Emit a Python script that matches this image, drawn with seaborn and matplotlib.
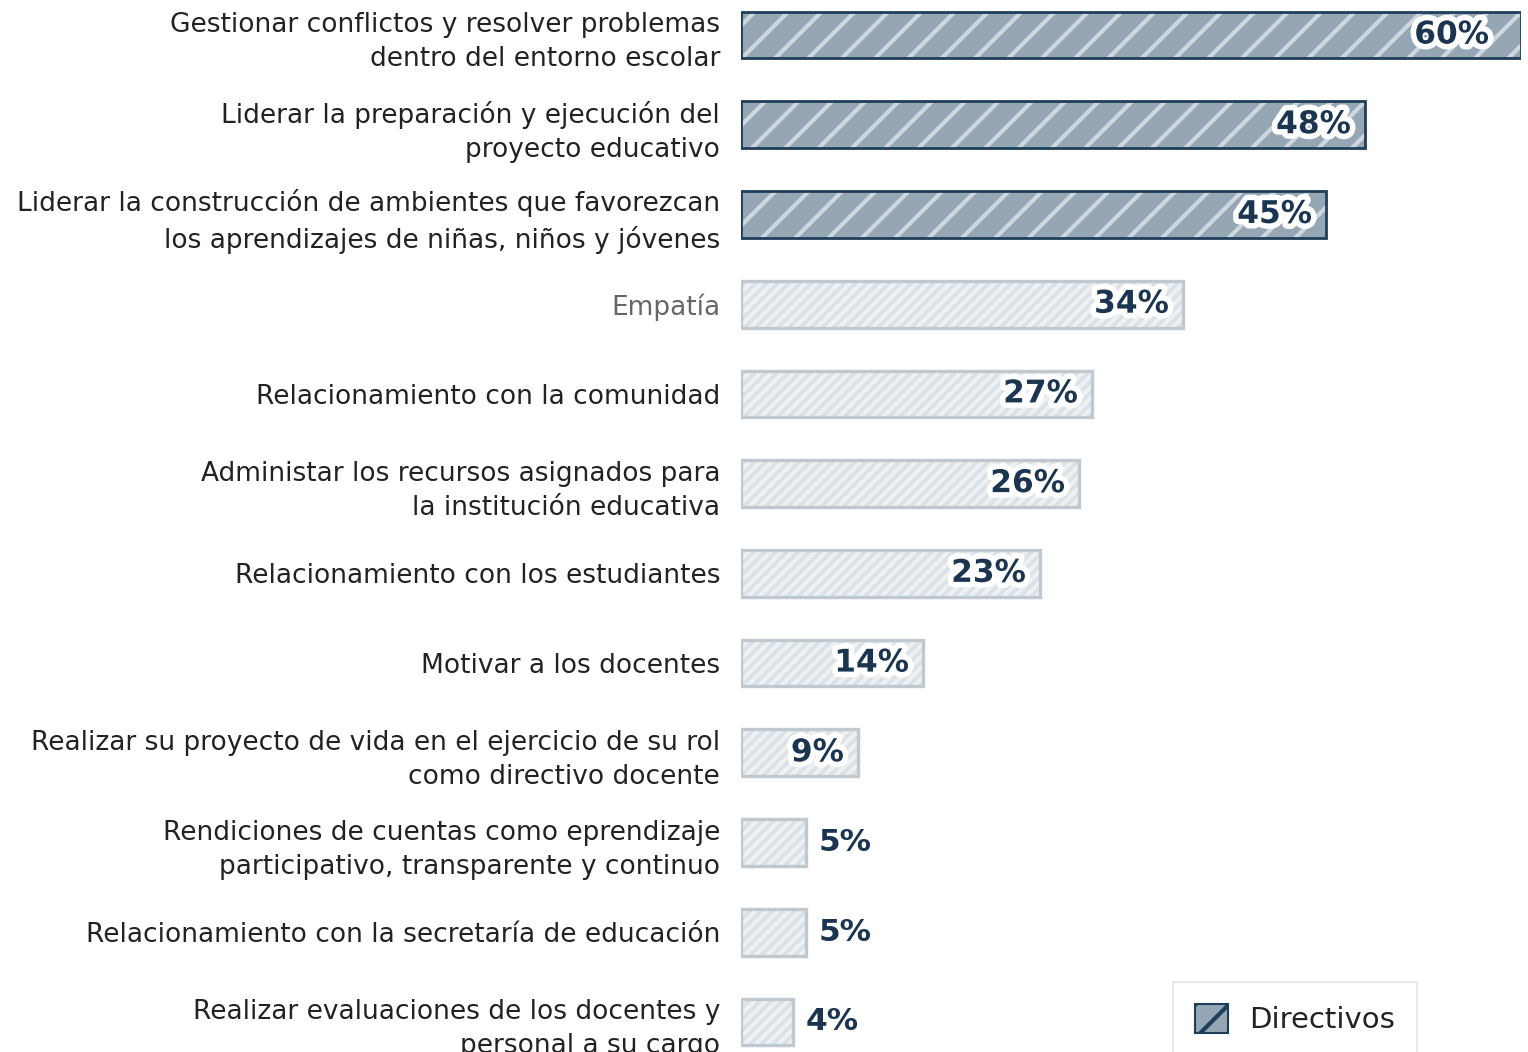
import matplotlib
matplotlib.use("Agg")
import matplotlib.pyplot as plt
import matplotlib.patheffects as pe
from matplotlib.patches import Rectangle, Patch
import seaborn as sns
import pandas as pd

categories = [
    "Gestionar conflictos y resolver problemas\ndentro del entorno escolar",
    "Liderar la preparación y ejecución del\nproyecto educativo",
    "Liderar la construcción de ambientes que favorezcan\nlos aprendizajes de niñas, niños y jóvenes",
    "Empatía",
    "Relacionamiento con la comunidad",
    "Administar los recursos asignados para\nla institución educativa",
    "Relacionamiento con los estudiantes",
    "Motivar a los docentes",
    "Realizar su proyecto de vida en el ejercicio de su rol\ncomo directivo docente",
    "Rendiciones de cuentas como eprendizaje\nparticipativo, transparente y continuo",
    "Relacionamiento con la secretaría de educación",
    "Realizar evaluaciones de los docentes y\npersonal a su cargo",
]
values = [60, 48, 45, 34, 27, 26, 23, 14, 9, 5, 5, 4]
highlighted = [True, True, True, False, False, False, False, False, False, False, False, False]
series_name = "Directivos"

df = pd.DataFrame({"cat": categories, "val": values})

sns.set_theme(style="white")
plt.rcParams['font.family'] = ['DejaVu Sans']
plt.rcParams['hatch.linewidth'] = 3.0

W, H = 1528, 1052
fig = plt.figure(figsize=(W / 100, H / 100), dpi=100)
row = 89.7
top_px = 35 - row / 2
bot_px = 1022 + row / 2
left_px, right_px = 741, 1521
ax = fig.add_axes([left_px / W, 1 - bot_px / H, (right_px - left_px) / W, (bot_px - top_px) / H])

sns.barplot(data=df, x="val", y="cat", orient="h", ax=ax, width=0.52,
            color="#dde2e6", saturation=1, linewidth=0)

dark_face, dark_hatch, dark_edge = "#95a6b5", "#cfd7de", "#1f3e5a"
light_face, light_hatch, light_edge = "#dce1e5", "#eef1f3", "#c0c9d0"

for p, hi in zip(ax.patches, highlighted):
    if hi:
        p.set_facecolor(dark_face)
        p.set_edgecolor(dark_hatch)
        p.set_hatch("/")
    else:
        p.set_facecolor(light_face)
        p.set_edgecolor(light_hatch)
        p.set_hatch("///")
    p.set_linewidth(0)
    ax.add_patch(Rectangle(p.get_xy(), p.get_width(), p.get_height(), fill=False,
                           ec=dark_edge if hi else light_edge, lw=2.0 if hi else 2.4, zorder=3))

ax.set_xlim(0, 60)
ax.set_ylim(len(categories) - 0.5, -0.5)
ax.set_xlabel("")
ax.set_ylabel("")
ax.set_xticks([])
for s in ax.spines.values():
    s.set_visible(False)
ax.tick_params(axis="y", length=0, pad=15, labelsize=19, labelcolor="#222222")
for lab in ax.get_yticklabels():
    lab.set_linespacing(1.4)
    if lab.get_text() == "Empatía":
        lab.set_color("#666666")

px_per_unit = (right_px - left_px) / 60
for i, (v, p) in enumerate(zip(values, ax.patches)):
    yc = p.get_y() + p.get_height() / 2
    txt = f"{v}%"
    if v >= 9:
        off = 32 if v == 60 else 14
        x = v - off / px_per_unit
        ha = "right"
    else:
        x = v + 13 / px_per_unit
        ha = "left"
    t = ax.text(x, yc, txt, ha=ha, va="center", fontsize=22.5, fontweight="bold",
                color="#1b3550", zorder=5)
    if v >= 9:
        t.set_path_effects([pe.withStroke(linewidth=8, foreground="white")])

handle = Patch(facecolor=dark_face, edgecolor=dark_edge, hatch="/", linewidth=1.5)
leg = fig.legend([handle], [series_name], loc="upper left",
                 bbox_to_anchor=(1173 / W, 1 - 982 / H), frameon=True, fancybox=False,
                 fontsize=21, handlelength=1.15, handleheight=1.15, borderpad=0.75,
                 handletextpad=0.7, borderaxespad=0)
leg.get_frame().set_edgecolor("#dddddd")
leg.get_frame().set_linewidth(1.2)
for t in leg.get_texts():
    t.set_color("#222222")

fig.savefig("out.png", dpi=100)
